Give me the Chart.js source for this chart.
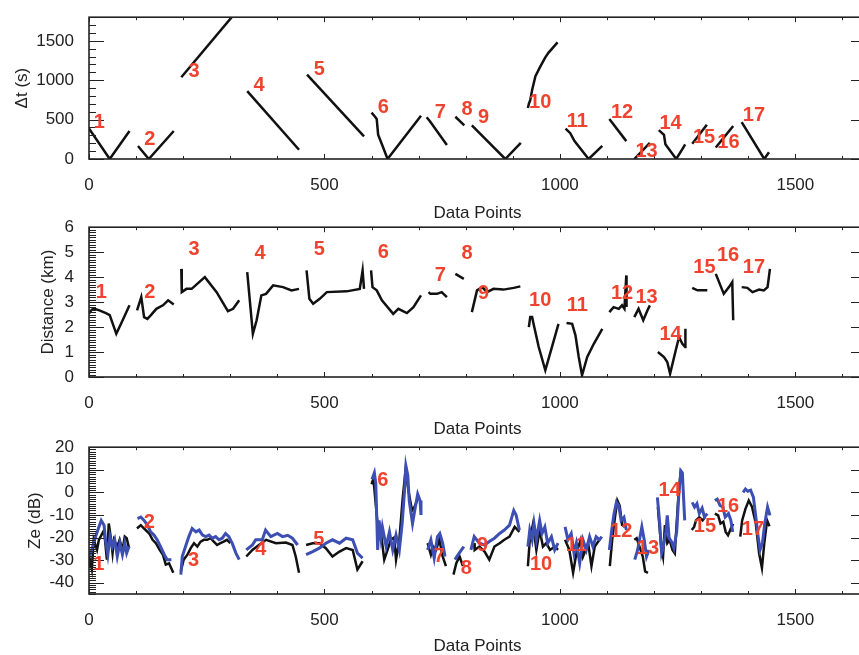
<!DOCTYPE html>
<html>
<head>
<meta charset="utf-8">
<script src="https://cdn.jsdelivr.net/npm/chart.js@4.4.0/dist/chart.umd.min.js"></script>
<style>
  body { margin: 0; background: #fff; overflow: hidden; width: 859px; height: 655px; position: relative; }
  canvas { position: absolute; left: 0; }
</style>
</head>
<body>
<canvas id="dtChart" width="880" height="225" style="top:0px"></canvas>
<canvas id="distChart" width="880" height="231" style="top:210px"></canvas>
<canvas id="zeChart" width="880" height="228" style="top:430px"></canvas>
<script>
// ---- data ----
// segment numbers
const segNames = ['1','2','3','4','5','6','7','8','9','10','11','12','13','14','15','16','17'];

// tick labels
const xTicks = [0, 500, 1000, 1500];
const dtTicks = [0, 500, 1000, 1500];
const distTicks = [0, 1, 2, 3, 4, 5, 6];
const zeTicks = [-40, -30, -20, -10, 0, 10, 20];

// Δt (s) per segment, [data point, value]
const dtSegs = [
  [[0,387],[44,0],[86,355]],
  [[104,166],[127,0],[180,355]],
  [[196,1037],[303,1800]],
  [[336,861],[446,118]],
  [[463,1070],[584,287]],
  [[600,588],[607,540],[611,507],[614,307],[622,187],[634,0],[705,548]],
  [[717,530],[724,480],[760,178]],
  [[778,536],[797,428]],
  [[813,428],[884,0],[917,206]],
  [[932,648],[934,700],[937,748],[941,877],[948,1050],[958,1170],[969,1290],[976,1351],[995,1480]],
  [[1012,387],[1022,327],[1031,227],[1061,0],[1090,166]],
  [[1105,507],[1141,227]],
  [[1158,0],[1191,206]],
  [[1210,367],[1221,307],[1224,187],[1247,0],[1260,126],[1266,187]],
  [[1281,194],[1312,435]],
  [[1331,146],[1368,419]],
  [[1386,467],[1434,0],[1444,86]]
];
const dtLabelPos = [[22,467],[129,250],[223,1110],[361,937],[489,1142],[625,648],[746,588],[803,628],[838,528],
  [958,720],[1037,476],[1132,588],[1184,98],[1235,447],[1306,275],[1358,214],[1412,555]];

// Distance (km)
const distSegs = [
  [[0,2.54],[6,2.7],[12,2.73],[22,2.67],[36,2.56],[44,2.48],[58,1.73],[68,2.13],[86,2.87]],
  [[102,2.67],[111,3.2],[117,2.4],[124,2.33],[131,2.47],[143,2.73],[157,2.87],[168,3.07],[180,2.9]],
  [[196,4.33],[197,3.4],[207,3.53],[218,3.53],[246,4.0],[271,3.4],[295,2.64],[306,2.73],[319,3.07]],
  [[336,4.2],[348,1.73],[356,2.27],[366,3.27],[376,3.33],[391,3.67],[412,3.6],[430,3.47],[446,3.53]],
  [[462,4.27],[468,3.13],[476,2.93],[490,3.13],[505,3.4],[547,3.43],[575,3.53],[581,4.27],[584,3.53]],
  [[599,4.27],[602,3.6],[611,3.47],[622,3.07],[646,2.53],[657,2.73],[675,2.56],[689,2.8],[705,3.27]],
  [[721,3.4],[725,3.33],[739,3.33],[749,3.4],[760,3.2]],
  [[778,4.13],[796,3.93]],
  [[813,2.6],[824,3.47],[835,3.6],[845,3.4],[859,3.53],[880,3.5],[902,3.57],[916,3.63]],
  [[934,2.0],[937,2.4],[941,2.4],[944,2.13],[955,1.2],[969,0.27],[983,1.2],[997,2.13]],
  [[1014,2.16],[1026,2.13],[1033,1.67],[1040,0.8],[1047,0.07],[1058,0.8],[1072,1.33],[1090,1.93]],
  [[1105,2.6],[1114,2.8],[1125,2.73],[1132,2.87],[1137,2.73],[1141,4.07],[1141.5,2.8]],
  [[1158,2.4],[1167,2.73],[1177,2.27],[1186,2.67],[1191,2.87]],
  [[1208,1.0],[1221,0.8],[1228,0.6],[1234,0.13],[1246,1.07],[1253,1.6],[1260,1.33],[1266,1.2],[1266.5,1.93]],
  [[1281,3.57],[1292,3.47],[1313,3.47]],
  [[1331,4.13],[1348,3.33],[1359,3.6],[1366,3.8],[1368,2.27]],
  [[1386,3.6],[1398,3.57],[1409,3.4],[1423,3.5],[1433,3.47],[1441,3.6],[1446,4.33]]
];
const distLabelPos = [[26,3.4],[129,3.4],[223,5.1],[363,4.93],[489,5.1],[625,5.0],[746,4.07],[803,4.93],[838,3.36],
  [958,3.07],[1037,2.87],[1132,3.33],[1184,3.2],[1235,1.71],[1307,4.4],[1357,4.87],[1412,4.4]];

// Ze (dB), black series
const zeBlackSegs = [
  [[0,-32.7],[2,-30],[6,-34],[10,-21],[17,-25.5],[21,-21],[32,-16.7],[38,-29.8],[42,-13.8],[46,-19.6],[50,-26.9],[53,-21],[60,-24],[65,-21],[71,-25.5],[76,-19.6],[80,-20.3],[85,-24.7]],
  [[102,-16],[110,-14.5],[117,-16],[128,-18.2],[135,-21],[142,-22.5],[150,-25.5],[157,-27.6],[163,-32],[170,-31.4],[179,-35.6]],
  [[195,-35],[201,-29.8],[209,-27.6],[216,-24.7],[223,-22.5],[230,-24],[237,-21.8],[244,-21],[251,-21],[258,-20.3],[265,-21.8],[272,-23.3],[279,-22.5],[286,-21.8],[293,-21],[300,-22.5]],
  [[334,-28.4],[347,-25.5],[361,-23.3],[376,-21],[397,-22.5],[418,-22.2],[432,-23.3],[439,-28.4],[446,-35.6]],
  [[461,-23.3],[475,-22.5],[489,-22.5],[503,-24.7],[517,-28.4],[532,-26.2],[546,-24.7],[560,-25.5],[570,-34.2],[581,-30.5]],
  [[600,3.6],[604,6],[613,-14.5],[620,-18],[627,-29.8],[634,-25.5],[641,-21],[648,-20],[652,-29.8],[659,-21],[666,-3],[672,9.5],[679,0],[686,-8],[691,-6.5],[698,-3]],
  [[719,-22.5],[726,-27.6],[731,-24],[737,-25.5],[744,-21],[751,-28.4],[758,-32.7]],
  [[774,-36.4],[780,-31.4],[787,-28.4],[794,-32.7]],
  [[818,-22.5],[819,-25.5],[829,-24],[840,-26.2],[850,-29.8],[861,-24],[872,-22.5],[882,-21],[893,-19.6],[904,-15.3],[914,-17.5]],
  [[932,-32.7],[936,-21],[943,-13.8],[950,-25.5],[957,-16.7],[964,-24],[971,-22.5],[979,-25.5],[989,-24],[996,-25.5]],
  [[1011,-21],[1020,-25.5],[1028,-35.6],[1035,-27],[1044,-21],[1049,-28.4],[1060,-22.5],[1067,-32.7],[1074,-24],[1084,-21]],
  [[1106,-32.7],[1111,-21],[1117,-11],[1122,-3.6],[1127,-6],[1132,-14.5],[1138,-15.3]],
  [[1158,-21],[1163,-20.3],[1169,-24],[1176,-28.4],[1181,-35],[1187,-35.6]],
  [[1208,-6.5],[1215,-24],[1219,-28.4],[1223,-14.5],[1228,-22.5],[1233,-21],[1239,-25.5],[1244,-27],[1251,-3.6],[1256,8],[1260,5]],
  [[1280,-16.7],[1285,-15.3],[1289,-12.4],[1296,-11],[1303,-12.4],[1308,-11]],
  [[1329,-9.4],[1336,-10.2],[1341,-13.8],[1347,-13],[1352,-17.5],[1357,-19],[1363,-16],[1368,-14]],
  [[1383,-19.6],[1387,-12.4],[1394,-7.3],[1401,-3.6],[1408,-6.5],[1416,-13.8],[1423,-27],[1429,-33.5],[1434,-22.5],[1440,-12.4],[1445,-15]]
];

// Ze (dB), blue series
const zeBlueSegs = [
  [[0,-28.4],[3.5,-26.9],[14,-19.6],[21,-15.3],[26,-12.4],[32,-14.5],[35,-21],[40,-27.6],[44.6,-19.6],[49.6,-24],[54.6,-21],[60,-28.4],[65.5,-22.5],[71,-27.6],[76,-22.5],[80,-26.9],[85,-24]],
  [[103,-11.6],[110,-10.9],[117,-12.4],[124,-14.5],[131,-17.5],[138,-18.9],[145,-21.1],[152,-24],[160,-27.6],[166,-29.8],[175,-29.8]],
  [[195,-36.4],[198,-28.4],[205,-24],[212,-19.6],[219,-16],[227,-17.5],[234,-16.7],[241,-18.9],[248,-19.6],[255,-18.9],[262,-20.3],[269,-19.6],[276,-21],[283,-20.3],[290,-18.2],[297,-19.6],[304,-22.5],[312,-26.9],[319,-29.8]],
  [[334,-25.5],[347,-23.3],[354,-21],[368,-21],[375,-16.7],[386,-19.6],[400,-18.2],[411,-19.6],[422,-19],[432,-20.3],[443,-23.3]],
  [[461,-27.6],[475,-26.2],[489,-24.7],[503,-22.5],[517,-21],[532,-22.5],[546,-20.3],[560,-21],[570,-26.9],[581,-29.1]],
  [[601,5.8],[606,8.7],[609,4],[613,-25.5],[616,-12.4],[620,-20],[623,-15.3],[631,-24],[638,-17.5],[645,-25.5],[652,-18.9],[659,-25.5],[665,-13.8],[670,0.7],[673,11.7],[677,7.5],[680,-3.6],[687,-13.8],[693,-6.5],[698,-0.7],[703,-3.6],[705,-10]],
  [[719,-25.5],[726,-21],[733,-29.1],[740,-19.6],[745,-18.2],[751,-22.5],[756,-28.4]],
  [[777,-29.8],[784,-27.6],[791,-25.5],[796,-24]],
  [[811,-25.5],[818,-19.6],[829,-22.5],[840,-23.3],[850,-21.8],[861,-20.3],[872,-18.2],[882,-16.7],[893,-14.5],[902,-8],[907,-10],[914,-16.7]],
  [[932,-24],[936,-16.7],[941,-21],[945,-13.8],[950,-21],[957,-12.4],[962,-18.2],[968,-15.3],[974,-22.5],[982,-19.6],[989,-25.5],[996,-22.5]],
  [[1011,-15.3],[1017,-21],[1024,-18.2],[1030,-26.9],[1035,-22.5],[1042,-31.3],[1049,-21],[1056,-25.5],[1063,-19.6],[1070,-24],[1077,-19.6],[1084,-21],[1089,-19.6]],
  [[1105,-25.5],[1110,-16.7],[1115,-9.4],[1120,-4.4],[1125,-6],[1130,-12.4],[1136,-11],[1141,-16.7]],
  [[1159,-29.8],[1165,-25.5],[1169,-21],[1174,-15.3],[1179,-21],[1184,-28.4],[1189,-25.5]],
  [[1207,-2.2],[1212,-13.8],[1216,-26.9],[1219,-24.7],[1225,-17.5],[1228,-10.2],[1232,-20.3],[1237,-21.8],[1242,-24.7],[1248,-17.5],[1253,0.7],[1257,9.5],[1260,8.7],[1265,-12.4]],
  [[1281,-4.4],[1286,-6.5],[1291,-5],[1296,-9.4],[1302,-7],[1307,-10.9],[1313,-9.4]],
  [[1329,-3.6],[1334,-3],[1340,-5.8],[1346,-6.5],[1351,-10.9],[1358,-9.4],[1363,-12.4],[1367,-17.5]],
  [[1389,0],[1394,1.5],[1399,0.5],[1405,1],[1411,-2.2],[1416,-10.9],[1421,-19.6],[1425,-25.5],[1430,-22.5],[1435,-13.8],[1441,-6.5],[1446,-10.2]]
];
const zeLabelPos = [[21,-32],[128,-13.5],[222,-30.1],[365,-25.5],[488,-21],[624,5.1],[744,-28.4],[801,-33.5],[836,-23.3],
  [960,-32],[1035,-23.3],[1130,-17.5],[1187,-24.7],[1233,1],[1308,-15.3],[1357,-6.2],[1410,-16.4]];

// ---- drawing ----
const FONT = "'Liberation Sans', Arial, sans-serif";
const RED = '#f0432f';

// box + inward tick marks, like the old IDL plots
const framePlugin = {
  id: 'frame',
  afterDatasetsDraw(chart, args, o) {
    const { ctx, chartArea: a, scales: { x, y } } = chart;
    ctx.save();
    ctx.strokeStyle = '#222';
    ctx.lineWidth = 1;
    ctx.beginPath();
    for (let v = 0; v <= x.max; v += 100) {
      const px = Math.round(x.getPixelForValue(v)) + 0.5;
      const len = v % 500 === 0 ? 5 : 3;
      ctx.moveTo(px, a.bottom); ctx.lineTo(px, a.bottom - len);
      ctx.moveTo(px, a.top); ctx.lineTo(px, a.top + len);
    }
    const n0 = Math.ceil(y.min / o.minor - 1e-9), n1 = Math.floor(y.max / o.minor + 1e-9);
    for (let i = n0; i <= n1; i++) {
      const v = i * o.minor;
      const py = Math.round(y.getPixelForValue(v)) + 0.5;
      const major = Math.abs(v / o.major - Math.round(v / o.major)) < 1e-6;
      const len = major ? 15 : 7;
      ctx.moveTo(a.left, py); ctx.lineTo(a.left + len, py);
      ctx.moveTo(a.right, py); ctx.lineTo(a.right - len, py);
    }
    ctx.stroke();
    ctx.lineWidth = 1.6;
    ctx.strokeRect(a.left, a.top, a.right - a.left, a.bottom - a.top);
    ctx.restore();
  }
};

// red segment numbers
const numberPlugin = {
  id: 'numbers',
  afterDatasetsDraw(chart, args, o) {
    const { ctx, scales: { x, y } } = chart;
    ctx.save();
    ctx.fillStyle = RED;
    ctx.font = 'bold 20px ' + FONT;
    ctx.textAlign = 'center';
    ctx.textBaseline = 'middle';
    o.pos.forEach((p, i) => {
      ctx.fillText(segNames[i], x.getPixelForValue(p[0]), y.getPixelForValue(p[1]));
    });
    ctx.restore();
  }
};

function toSets(segs, color, width, order) {
  return segs.map(s => ({
    data: s.map(p => ({ x: p[0], y: p[1] })),
    borderColor: color,
    borderWidth: width,
    pointRadius: 0,
    tension: 0,
    order: order
  }));
}

function makeChart(id, datasets, cfg) {
  return new Chart(document.getElementById(id), {
    type: 'line',
    data: { datasets: datasets },
    options: {
      responsive: false,
      animation: false,
      events: [],
      layout: { autoPadding: false, padding: { top: cfg.padTop, right: 14, left: 0, bottom: 0 } },
      plugins: {
        legend: { display: false },
        tooltip: { enabled: false },
        frame: { minor: cfg.yMinor, major: cfg.yMajor },
        numbers: { pos: cfg.labels }
      },
      scales: {
        x: {
          type: 'linear', min: 0, max: 1650,
          grid: { display: false }, border: { display: false },
          ticks: { autoSkip: false, maxRotation: 0, padding: 8, color: '#222', font: { family: FONT, size: 17 }, callback: v => String(v) },
          afterBuildTicks: s => { s.ticks = xTicks.map(v => ({ value: v })); },
          title: { display: true, text: 'Data Points', color: '#222', font: { family: FONT, size: 17 }, padding: { top: 0, bottom: 1 } },
          afterFit: s => { s.height = cfg.xHeight; }
        },
        y: {
          type: 'linear', min: cfg.yMin, max: cfg.yMax,
          grid: { display: false }, border: { display: false },
          ticks: { autoSkip: false, padding: 7, color: '#222', font: { family: FONT, size: 17 }, callback: v => String(v) },
          afterBuildTicks: s => { s.ticks = cfg.yTicks.map(v => ({ value: v })); },
          title: { display: true, text: cfg.yTitle, color: '#222', font: { family: FONT, size: 17 }, padding: { top: cfg.titlePad, bottom: 0 } },
          afterFit: s => { s.width = 89; }
        }
      }
    },
    plugins: [framePlugin, numberPlugin]
  });
}

makeChart('dtChart', toSets(dtSegs, '#111', 2.5, 1), {
  padTop: 9, xHeight: 66, yMin: 0, yMax: 1800, yMajor: 500, yMinor: 100, yTicks: dtTicks,
  yTitle: 'Δt (s)', titlePad: 12, labels: dtLabelPos
});

makeChart('distChart', toSets(distSegs, '#111', 2.5, 1), {
  padTop: 17, xHeight: 64, yMin: 0, yMax: 6, yMajor: 1, yMinor: 0.1, yTicks: distTicks,
  yTitle: 'Distance (km)', titlePad: 38, labels: distLabelPos
});

makeChart('zeChart', toSets(zeBlueSegs, '#3d4fb3', 3, 1).concat(toSets(zeBlackSegs, '#111', 2.5, 2)), {
  padTop: 14, xHeight: 64, yMin: -45, yMax: 20, yMajor: 10, yMinor: 1, yTicks: zeTicks,
  yTitle: 'Ze (dB)', titlePad: 25, labels: zeLabelPos
});
</script>
</body>
</html>
